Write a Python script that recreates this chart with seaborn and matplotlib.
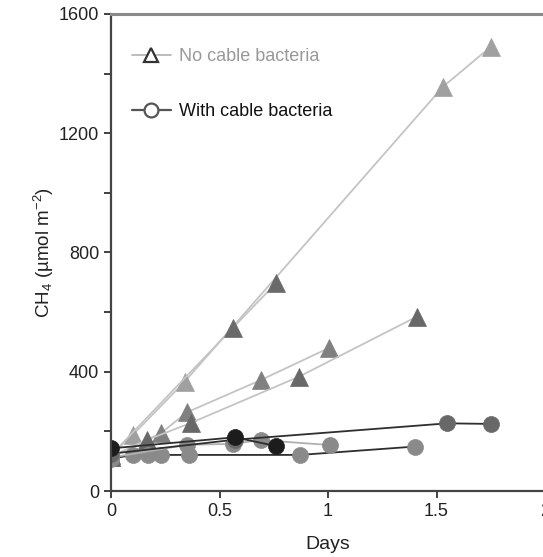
import matplotlib
matplotlib.use("Agg")
import matplotlib.pyplot as plt
import seaborn as sns
from matplotlib.lines import Line2D
from matplotlib.ticker import MultipleLocator

# no cable bacteria (triangles)
days_a1 = [0, 0.10, 0.34, 1.53, 1.75]
ch4_a1 = [120, 188, 367, 1356, 1490]
days_a2 = [0, 0.56, 0.76]
ch4_a2 = [120, 546, 697]
days_b = [0, 0.23, 0.35, 0.69, 1.005]
ch4_b = [115, 194, 264, 372, 480]
days_c = [0, 0.165, 0.37, 0.865, 1.41]
ch4_c = [115, 171, 229, 383, 585]

# with cable bacteria (circles)
days_d = [0, 0.57, 1.55, 1.75]
ch4_d = [125, 172, 227, 225]
days_e = [0, 0.57, 0.76]
ch4_e = [143, 180, 151]
days_f = [0, 0.35, 0.56, 0.69, 1.01]
ch4_f = [112, 155, 158, 171, 154]
days_g = [0, 0.10, 0.17, 0.23, 0.36, 0.87, 1.40]
ch4_g = [108, 121, 121, 121, 121, 121, 149]

sns.set_style("ticks")
plt.rcParams["font.family"] = ["Liberation Sans", "DejaVu Sans"]
plt.rcParams["mathtext.default"] = "regular"

fig = plt.figure(figsize=(5.43, 5.57), dpi=100)
ax = fig.add_axes([111 / 543, 66 / 557, 434 / 543, 477 / 557])

tri = [
    (days_a1, ch4_a1, "#c4c4c4", "#a0a0a0"),
    (days_a2, ch4_a2, "#c4c4c4", "#6a6a6a"),
    (days_b, ch4_b, "#c4c4c4", "#808080"),
    (days_c, ch4_c, "#c4c4c4", "#686868"),
]
for x, y, lc, mc in tri:
    sns.lineplot(x=x, y=y, ax=ax, color=lc, linewidth=1.3, marker="^",
                 markersize=13, markerfacecolor=mc, markeredgecolor=mc,
                 markeredgewidth=0.5, estimator=None, sort=False)

circ = [
    (days_g, ch4_g, "#2e2e2e", "#8a8a8a"),
    (days_f, ch4_f, "#b0b0b0", "#8a8a8a"),
    (days_d, ch4_d, "#2e2e2e", "#686868"),
    (days_e, ch4_e, "#2e2e2e", "#1c1c1c"),
]
for x, y, lc, mc in circ:
    sns.lineplot(x=x, y=y, ax=ax, color=lc, linewidth=1.3, marker="o",
                 markersize=11.5, markerfacecolor=mc, markeredgecolor=mc,
                 markeredgewidth=0.5, estimator=None, sort=False)

ax.set_xlim(0, 2)
ax.set_ylim(0, 1600)
ax.set_xticks([0, 0.5, 1, 1.5, 2])
ax.set_xticklabels(["0", "0.5", "1", "1.5", "2"])
ax.set_yticks([0, 400, 800, 1200, 1600])
ax.yaxis.set_minor_locator(MultipleLocator(200))
ax.tick_params(axis="both", which="major", labelsize=13, length=5,
               width=1.3, color="#333333", labelcolor="#222222")
ax.tick_params(axis="y", which="minor", length=5, width=1.3, color="#333333")
for side in ["left", "bottom", "top", "right"]:
    ax.spines[side].set_color("#444444")
    ax.spines[side].set_linewidth(1.6)
ax.spines["top"].set_color("#8a8a8a")
ax.spines["top"].set_linewidth(2.2)

ax.set_xlabel("Days", fontsize=14, color="#222222", labelpad=12)
ax.set_ylabel("CH$_4$ (µmol m$^{-2}$)", fontsize=13.5, color="#222222", labelpad=2)

handles = [
    Line2D([], [], color="#b8b8b8", linewidth=1.3, marker="^", markersize=10,
           markerfacecolor="white", markeredgecolor="#333333", markeredgewidth=1.6),
    Line2D([], [], color="#555555", linewidth=1.6, marker="o", markersize=10,
           markerfacecolor="white", markeredgecolor="#555555", markeredgewidth=1.6),
]
leg = ax.legend(handles, ["No cable bacteria", "With cable bacteria"],
                loc="upper left", bbox_to_anchor=(0.01, 0.962), frameon=False,
                fontsize=13, labelspacing=2.1, handlelength=2.2,
                handletextpad=0.45)
leg.get_texts()[0].set_color("#999999")
leg.get_texts()[1].set_color("#111111")

fig.savefig("out.png", dpi=100)
